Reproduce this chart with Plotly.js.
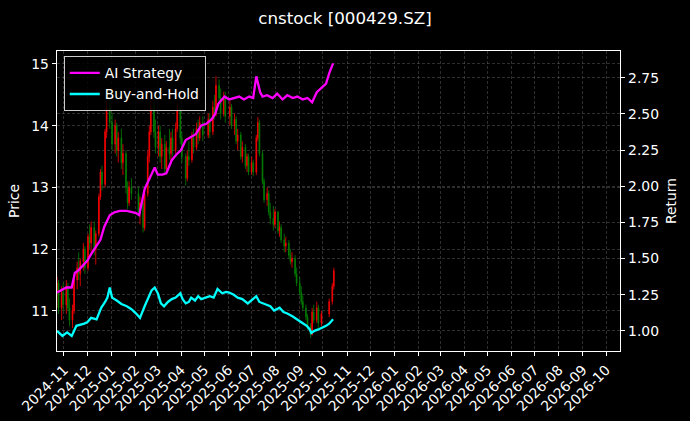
<!DOCTYPE html>
<html>
<head>
<meta charset="utf-8">
<script src="https://cdn.plot.ly/plotly-3.0.1.min.js"></script>
<style>html,body{margin:0;padding:0;background:#000;}#chart{width:690px;height:421px;}</style>
</head>
<body>
<div id="chart"></div>
<script>
// ---- Candlestick data (price, left axis) ----
const candleDates = [
"2024-10-23","2024-10-25","2024-10-29","2024-10-31","2024-11-04","2024-11-06","2024-11-08","2024-11-12","2024-11-14","2024-11-18",
"2024-11-20","2024-11-22","2024-11-26","2024-11-28","2024-12-02","2024-12-04","2024-12-06","2024-12-10","2024-12-12","2024-12-16",
"2024-12-18","2024-12-20","2024-12-24","2024-12-26","2024-12-30","2025-01-02","2025-01-06","2025-01-08","2025-01-10","2025-01-14",
"2025-01-16","2025-01-20","2025-01-22","2025-01-24","2025-01-27","2025-02-05","2025-02-07","2025-02-11","2025-02-13","2025-02-17",
"2025-02-19","2025-02-21","2025-02-25","2025-02-27","2025-03-03","2025-03-05","2025-03-07","2025-03-11","2025-03-13","2025-03-17",
"2025-03-19","2025-03-21","2025-03-25","2025-03-27","2025-03-31","2025-04-02","2025-04-07","2025-04-09","2025-04-11","2025-04-15",
"2025-04-17","2025-04-21","2025-04-23","2025-04-25","2025-04-29","2025-05-06","2025-05-08","2025-05-12","2025-05-14","2025-05-16",
"2025-05-20","2025-05-22","2025-05-26","2025-05-28","2025-06-03","2025-06-05","2025-06-09","2025-06-11","2025-06-13","2025-06-17",
"2025-06-19","2025-06-23","2025-06-25","2025-06-27","2025-07-01","2025-07-03","2025-07-07","2025-07-09","2025-07-11","2025-07-15",
"2025-07-17","2025-07-21","2025-07-23","2025-07-25","2025-07-29","2025-07-31","2025-08-04","2025-08-06","2025-08-08","2025-08-12",
"2025-08-14","2025-08-18","2025-08-20","2025-08-22","2025-08-26","2025-08-28","2025-09-01","2025-09-03","2025-09-05","2025-09-09",
"2025-09-11","2025-09-15","2025-09-17","2025-09-19","2025-09-23","2025-09-25","2025-09-29","2025-10-09","2025-10-13","2025-10-15"
];
const openP = [
11.30,11.45,11.05,11.30,11.10,11.40,11.05,10.85,11.00,11.50,
11.70,11.60,11.80,12.00,11.70,12.20,12.10,12.35,12.00,12.25,
12.85,13.25,13.05,13.90,14.30,14.05,13.70,14.00,13.60,13.80,
13.40,13.55,13.00,12.75,13.00,12.90,12.60,12.75,12.35,12.90,
13.50,13.90,14.30,13.90,13.65,13.90,13.50,13.70,13.30,13.65,
13.55,13.80,13.60,13.95,14.25,13.80,13.50,13.15,13.50,13.45,
13.80,13.65,13.95,13.80,14.05,13.85,14.10,13.90,14.30,14.20,
14.65,14.45,14.20,14.45,14.15,14.30,14.00,14.10,13.75,13.85,
13.50,13.65,13.35,13.50,13.25,13.40,13.25,13.80,14.05,13.55,
13.10,12.80,12.90,12.60,12.50,12.40,12.60,12.30,12.35,12.15,
12.05,12.10,11.90,11.80,11.85,11.60,11.45,11.30,11.15,11.05,
10.90,10.75,10.62,10.98,10.85,11.05,10.80,10.95,11.15,11.40
];
const highP = [
11.55,11.50,11.40,11.45,11.50,11.45,11.20,11.10,11.55,11.80,
11.95,11.85,12.10,12.05,12.25,12.40,12.45,12.45,12.30,12.90,
13.30,13.35,13.95,14.40,14.46,14.20,14.10,14.05,13.90,13.95,
13.70,13.60,13.10,13.10,13.15,13.00,12.85,12.80,12.95,13.60,
14.00,14.45,14.40,14.10,14.00,14.00,13.80,13.85,13.75,13.95,
13.90,13.95,14.05,14.37,14.30,13.90,13.55,13.60,13.75,13.90,
13.95,14.05,14.10,14.15,14.15,14.20,14.20,14.40,14.50,14.80,
14.75,14.60,14.55,14.55,14.40,14.35,14.20,14.15,13.95,13.90,
13.75,13.70,13.55,13.55,13.50,13.45,13.85,14.14,14.10,13.60,
13.15,13.00,12.95,12.75,12.70,12.65,12.62,12.45,12.40,12.25,
12.20,12.15,12.00,11.95,11.90,11.70,11.55,11.40,11.25,11.10,
10.95,10.80,11.05,11.10,11.15,11.10,11.00,11.20,11.45,11.70
];
const lowP = [
11.05,10.95,10.85,11.00,10.95,11.00,10.75,10.72,10.95,11.35,
11.50,11.40,11.65,11.60,11.65,12.00,11.95,11.90,11.75,12.20,
12.80,12.95,13.00,13.80,13.95,13.60,13.55,13.50,13.40,13.30,
13.20,12.90,12.65,12.70,12.80,12.55,12.40,12.27,12.30,12.85,
13.40,13.85,13.80,13.55,13.50,13.40,13.30,13.20,13.25,13.45,
13.40,13.50,13.55,13.90,13.70,13.40,13.03,13.10,13.35,13.40,
13.55,13.60,13.70,13.75,13.75,13.80,13.80,13.85,14.10,14.15,
14.35,14.10,14.15,14.05,14.00,13.95,13.85,13.70,13.60,13.45,
13.40,13.30,13.25,13.20,13.20,13.18,13.20,13.75,13.50,13.05,
12.75,12.70,12.55,12.40,12.30,12.35,12.25,12.20,12.10,11.95,
11.95,11.85,11.75,11.70,11.55,11.40,11.25,11.10,11.00,10.85,
10.70,10.56,10.60,10.80,10.80,10.72,10.75,10.90,11.10,11.35
];
const closeP = [
11.45,11.05,11.30,11.10,11.40,11.05,10.85,11.00,11.50,11.70,
11.60,11.80,12.00,11.70,12.20,12.10,12.35,12.00,12.25,12.85,
13.25,13.05,13.90,14.30,14.05,13.70,14.00,13.60,13.80,13.40,
13.55,13.00,12.75,13.00,12.90,12.60,12.75,12.35,12.90,13.50,
13.90,14.30,13.90,13.65,13.90,13.50,13.70,13.30,13.65,13.55,
13.80,13.60,13.95,14.25,13.80,13.50,13.15,13.50,13.45,13.80,
13.65,13.95,13.80,14.05,13.85,14.10,13.90,14.30,14.20,14.65,
14.45,14.20,14.45,14.15,14.30,14.00,14.10,13.75,13.85,13.50,
13.65,13.35,13.50,13.25,13.40,13.25,13.80,14.05,13.55,13.10,
12.80,12.90,12.60,12.50,12.40,12.60,12.30,12.35,12.15,12.05,
12.10,11.90,11.80,11.85,11.60,11.45,11.30,11.15,11.05,10.90,
10.75,10.62,10.98,10.85,11.05,10.80,10.95,11.15,11.40,11.65
];

// ---- Return lines (right axis) ----
const aiDates = [
"2024-10-23","2024-10-29","2024-11-04","2024-11-11","2024-11-15","2024-11-20","2024-11-26","2024-12-01","2024-12-06","2024-12-12",
"2024-12-18","2024-12-23","2024-12-30","2025-01-05","2025-01-12","2025-01-21","2025-01-27","2025-02-02","2025-02-06","2025-02-13",
"2025-02-19","2025-02-26","2025-03-02","2025-03-08","2025-03-13","2025-03-20","2025-03-26","2025-04-01","2025-04-07","2025-04-14",
"2025-04-20","2025-04-27","2025-05-03","2025-05-10","2025-05-15","2025-05-19","2025-05-27","2025-06-02","2025-06-08","2025-06-15",
"2025-06-21","2025-06-28","2025-07-03","2025-07-07","2025-07-12","2025-07-15","2025-07-21","2025-07-28","2025-08-03","2025-08-10",
"2025-08-16","2025-08-23","2025-08-29","2025-09-05","2025-09-11","2025-09-17","2025-09-23","2025-09-29","2025-10-05","2025-10-09",
"2025-10-14"
];
const aiReturn = [
1.265,1.285,1.30,1.30,1.40,1.42,1.46,1.485,1.53,1.58,
1.63,1.72,1.80,1.82,1.83,1.83,1.82,1.815,1.80,1.98,
2.05,2.13,2.08,2.08,2.09,2.18,2.22,2.25,2.32,2.34,
2.36,2.42,2.43,2.46,2.50,2.57,2.62,2.60,2.61,2.62,
2.60,2.62,2.61,2.76,2.65,2.62,2.63,2.61,2.64,2.60,
2.63,2.61,2.62,2.60,2.61,2.58,2.65,2.68,2.71,2.78,
2.85
];
const bhDates = [
"2024-10-23","2024-10-30","2024-11-05","2024-11-11","2024-11-17","2024-11-22","2024-11-27","2024-12-01","2024-12-06","2024-12-13",
"2024-12-19","2024-12-24","2024-12-27","2024-12-30","2025-01-02","2025-01-08","2025-01-14","2025-01-21","2025-01-27","2025-02-02",
"2025-02-07","2025-02-13","2025-02-16","2025-02-22","2025-02-26","2025-03-02","2025-03-06","2025-03-10","2025-03-15","2025-03-20",
"2025-03-25","2025-03-31","2025-04-03","2025-04-07","2025-04-11","2025-04-14","2025-04-19","2025-04-23","2025-04-27","2025-05-03",
"2025-05-08","2025-05-13","2025-05-18","2025-05-24","2025-05-29","2025-06-02","2025-06-08","2025-06-13","2025-06-19","2025-06-26",
"2025-07-01","2025-07-07","2025-07-11","2025-07-15","2025-07-20","2025-07-25","2025-07-30","2025-08-06","2025-08-11","2025-08-16",
"2025-08-23","2025-08-28","2025-09-03","2025-09-10","2025-09-14","2025-09-16","2025-09-20","2025-09-25","2025-09-30","2025-10-05",
"2025-10-09","2025-10-14"
];
const bhReturn = [
1.00,0.965,0.99,0.965,1.035,1.04,1.05,1.06,1.09,1.08,
1.16,1.20,1.23,1.30,1.23,1.21,1.186,1.17,1.15,1.12,
1.09,1.17,1.21,1.28,1.30,1.26,1.19,1.17,1.20,1.22,
1.23,1.26,1.22,1.19,1.20,1.23,1.21,1.24,1.22,1.23,
1.24,1.23,1.29,1.26,1.27,1.265,1.25,1.23,1.22,1.19,
1.21,1.24,1.20,1.19,1.18,1.17,1.14,1.16,1.13,1.12,
1.10,1.08,1.06,1.035,1.01,0.985,1.00,1.01,1.02,1.035,
1.05,1.08
];

const titleText = "cnstock [000429.SZ]";
const FONT = "DejaVu Sans, sans-serif";
const gridC = "rgba(120,120,120,0.55)";

const traces = [
  {
    type: "candlestick",
    x: candleDates, open: openP, high: highP, low: lowP, close: closeP,
    increasing: {line: {color: "#ff0000", width: 0.8}, fillcolor: "#ff0000"},
    decreasing: {line: {color: "#008000", width: 0.8}, fillcolor: "#008000"},
    showlegend: false, yaxis: "y", hoverinfo: "skip"
  },
  {
    type: "scatter", mode: "lines", name: "AI Strategy",
    x: aiDates, y: aiReturn, yaxis: "y2",
    line: {color: "#ff00ff", width: 2.3}
  },
  {
    type: "scatter", mode: "lines", name: "Buy-and-Hold",
    x: bhDates, y: bhReturn, yaxis: "y2",
    line: {color: "#00ffff", width: 2.3}
  }
];

const axisCommon = {
  color: "#ffffff",
  tickfont: {family: FONT, size: 13.9, color: "#ffffff"},
  ticks: "outside", ticklen: 4, tickwidth: 1, tickcolor: "#ffffff",
  showline: true, linecolor: "#ffffff", linewidth: 1.3,
  gridcolor: gridC, griddash: "3px,2px", gridwidth: 0.7,
  zeroline: false
};

const layout = {
  width: 690, height: 421,
  paper_bgcolor: "#000000", plot_bgcolor: "#000000",
  margin: {l: 57, r: 70, t: 51, b: 70, pad: 0},
  title: {text: titleText, font: {family: FONT, size: 16.7, color: "#ffffff"},
          x: 0.5, xanchor: "center", y: 0.957, yref: "container", yanchor: "middle"},
  showlegend: true,
  legend: {x: 0.012, y: 0.982, xanchor: "left", yanchor: "top",
           bgcolor: "rgba(0,0,0,0.85)", bordercolor: "rgba(255,255,255,0.8)", borderwidth: 1,
           font: {family: FONT, size: 13.9, color: "#ffffff"}, tracegroupgap: 2},
  xaxis: Object.assign({}, axisCommon, {
    type: "date", range: ["2024-10-23", "2026-10-19"],
    tick0: "2024-11-01", dtick: "M1", tickformat: "%Y-%m", tickangle: -45,
    mirror: true, rangeslider: {visible: false}
  }),
  yaxis: Object.assign({}, axisCommon, {
    range: [10.35, 15.21], dtick: 1, tick0: 0, side: "left", mirror: true,
    title: {text: "Price", font: {family: FONT, size: 13.9, color: "#ffffff"}, standoff: 8}
  }),
  yaxis2: Object.assign({}, axisCommon, {
    overlaying: "y", side: "right", range: [0.861, 2.935], dtick: 0.25, tick0: 0,
    tickformat: ".2f",
    title: {text: "Return", font: {family: FONT, size: 13.9, color: "#ffffff"}, standoff: 8}
  })
};

Plotly.newPlot("chart", traces, layout, {displayModeBar: false, staticPlot: true});
</script>
</body>
</html>
